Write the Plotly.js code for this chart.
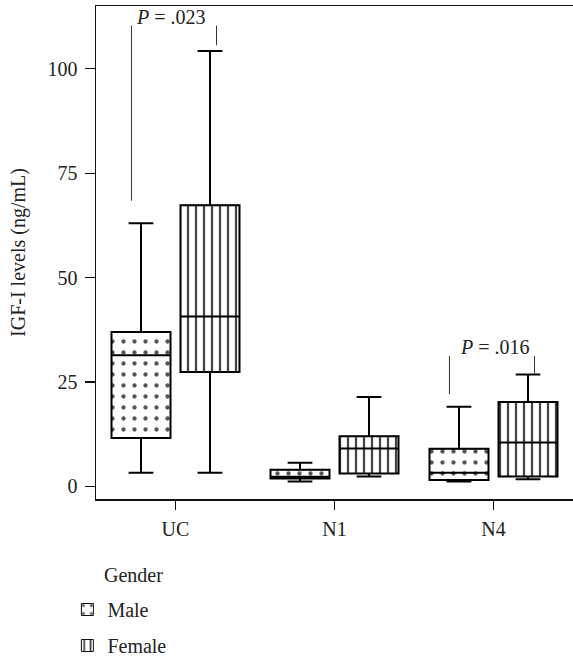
<!DOCTYPE html>
<html>
<head>
<meta charset="utf-8">
<script src="https://cdn.plot.ly/plotly-3.0.1.min.js"></script>
<style>html,body{margin:0;padding:0;background:#fff;}#chart{width:573px;height:665px;}</style>
</head>
<body>
<div id="chart"></div>
<script>
// ---- data ----
const categories = ['UC', 'N1', 'N4'];
const maleLower  = [3.3, 1.2, 1.2];
const maleQ1     = [11.6, 1.9, 1.55];
const maleMedian = [31.4, 2.3, 3.3];
const maleQ3     = [37.0, 4.0, 9.0];
const maleUpper  = [63.0, 5.65, 19.1];
const femaleLower  = [3.3, 2.4, 1.7];
const femaleQ1     = [27.4, 3.1, 2.4];
const femaleMedian = [40.7, 9.1, 10.5];
const femaleQ3     = [67.3, 12.0, 20.2];
const femaleUpper  = [104.2, 21.4, 26.8];
const yTickVals = [0, 25, 50, 75, 100];

// P-value brackets
const pCats      = ['UC', 'N4'];
const pLabels    = ['.023', '.016'];
const pTextY     = [112.3, 33.3];
const pLineTop   = [110.3, 31.2];
const pMaleEnd   = [68.4, 22.1];
const pFemaleEnd = [105.6, 27.1];

const FONT = 'Liberation Serif, Times New Roman, serif';
const TXT = '#222';
const FS = 20;

function span(a, b) { return a.map((v, i) => b[i] - v); }

const traces = [
  {
    type: 'bar', name: 'Male', x: categories, base: maleQ1, y: span(maleQ1, maleQ3),
    marker: {color: 'white', line: {color: '#111', width: 1},
      pattern: {shape: '.', size: 11, solidity: 0.12, fgcolor: '#555', bgcolor: 'white'}},
    legendgroup: 'm', hoverinfo: 'skip'
  },
  {
    type: 'bar', name: 'Female', x: categories, base: femaleQ1, y: span(femaleQ1, femaleQ3),
    marker: {color: 'white', line: {color: '#111', width: 1},
      pattern: {shape: '|', size: 8, solidity: 0.28, fgcolor: '#444', bgcolor: 'white'}},
    legendgroup: 'f', hoverinfo: 'skip'
  },
  {
    type: 'box', name: 'Male', x: categories, q1: maleQ1, median: maleMedian, q3: maleQ3,
    lowerfence: maleLower, upperfence: maleUpper, boxpoints: false,
    line: {color: '#000', width: 2}, fillcolor: 'rgba(0,0,0,0)', whiskerwidth: 0.42,
    showlegend: false, hoverinfo: 'skip'
  },
  {
    type: 'box', name: 'Female', x: categories, q1: femaleQ1, median: femaleMedian, q3: femaleQ3,
    lowerfence: femaleLower, upperfence: femaleUpper, boxpoints: false,
    line: {color: '#000', width: 2}, fillcolor: 'rgba(0,0,0,0)', whiskerwidth: 0.42,
    showlegend: false, hoverinfo: 'skip'
  }
];

const shapes = [];
const annotations = [];
const pTextShift = [-0.03, 0.01];
pCats.forEach((c, i) => {
  const xi = categories.indexOf(c);
  shapes.push({type: 'line', xref: 'x', yref: 'y', x0: xi - 0.277, x1: xi - 0.277,
    y0: pLineTop[i], y1: pMaleEnd[i], line: {color: '#333', width: 1}});
  shapes.push({type: 'line', xref: 'x', yref: 'y', x0: xi + 0.258, x1: xi + 0.258,
    y0: pLineTop[i], y1: pFemaleEnd[i], line: {color: '#333', width: 1}});
  annotations.push({xref: 'x', yref: 'y', x: xi + pTextShift[i], y: pTextY[i],
    text: '<i>P</i> = ' + pLabels[i], showarrow: false,
    font: {family: FONT, size: FS, color: TXT}});
});
annotations.push({xref: 'paper', yref: 'paper', x: 0.013, y: -0.154, xanchor: 'left', yanchor: 'middle',
  text: 'Gender', showarrow: false, font: {family: FONT, size: FS, color: TXT}});

const layout = {
  width: 573, height: 665,
  margin: {l: 96, r: 0, t: 6, b: 151},
  paper_bgcolor: 'white', plot_bgcolor: 'white',
  font: {family: FONT, size: FS, color: TXT},
  barmode: 'group', bargap: 0.132, bargroupgap: 0.145,
  boxmode: 'group', boxgap: 0.132, boxgroupgap: 0.145,
  xaxis: {
    type: 'category', range: [-0.5, 2.5], showgrid: false, zeroline: false,
    showline: true, linecolor: '#111', linewidth: 1.5, mirror: true,
    ticks: 'outside', ticklen: 9, tickcolor: '#111', tickwidth: 1.2,
    tickfont: {family: FONT, size: FS, color: TXT}, ticklabelstandoff: 2
  },
  yaxis: {
    range: [-3, 115], showgrid: false, zeroline: false,
    showline: true, linecolor: '#111', linewidth: 1.5,
    ticks: 'outside', ticklen: 10, tickcolor: '#111', tickwidth: 1.2,
    tickvals: yTickVals, ticktext: yTickVals.map(String),
    tickfont: {family: FONT, size: FS, color: TXT}, ticklabelstandoff: 3,
    title: {text: 'IGF-I levels (ng/mL)', standoff: 16, font: {family: FONT, size: FS, color: TXT}}
  },
  legend: {
    x: -0.06, xanchor: 'left', y: -0.185, yanchor: 'top',
    font: {family: FONT, size: FS, color: TXT},
    tracegroupgap: 7, bgcolor: 'rgba(0,0,0,0)'
  },
  shapes: shapes,
  annotations: annotations,
  showlegend: true
};

Plotly.newPlot('chart', traces, layout, {displayModeBar: false, staticPlot: true});
</script>
</body>
</html>
